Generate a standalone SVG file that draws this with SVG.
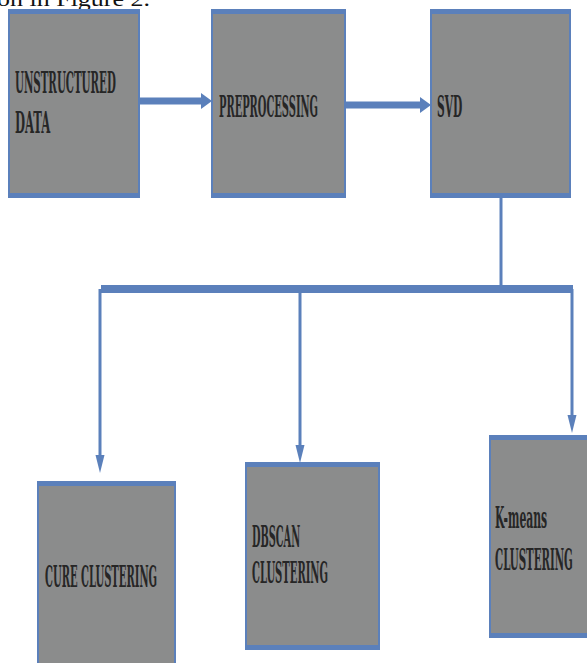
<svg xmlns="http://www.w3.org/2000/svg" width="587" height="663" viewBox="0 0 587 663">
  <style>
    .box { fill: #8b8c8c; stroke: #5b80bb; stroke-width: 2; }
    .band { fill: #5b80bb; }
    .lbl { font-family: "DejaVu Serif Condensed", "DejaVu Serif", "Liberation Serif", serif; font-weight: bold; font-size: 29px; fill: #262626; }
    .thick { stroke: #5b80bb; stroke-width: 7; fill: none; }
    .thin { stroke: #5b80bb; stroke-width: 3; fill: none; }
    .cap { font-family: "Liberation Serif", "Times New Roman", serif; font-size: 22px; fill: #111; }
  </style>
  <defs>
    <marker id="hhead" markerUnits="userSpaceOnUse" markerWidth="14" markerHeight="18" refX="1" refY="8" orient="auto">
      <path d="M0,0 L11,8 L0,16 z" fill="#5b80bb"/>
    </marker>
    <marker id="vhead" markerUnits="userSpaceOnUse" markerWidth="20" markerHeight="10" refX="1" refY="4.5" orient="auto">
      <path d="M0,0 L18,4.5 L0,9 z" fill="#5b80bb"/>
    </marker>
  </defs>
  <rect width="587" height="663" fill="#ffffff"/>

  <text class="cap" x="-3" y="5.5" textLength="153" lengthAdjust="spacingAndGlyphs">on in Figure 2.</text>

  <g id="connectors">
    <line class="thick" x1="139" y1="101" x2="202" y2="101" marker-end="url(#hhead)"/>
    <line class="thick" x1="345" y1="105" x2="421" y2="105" marker-end="url(#hhead)"/>
    <line class="thin" x1="501" y1="197" x2="501" y2="289" stroke-width="2.5"/>
    <line stroke="#5b80bb" stroke-width="8" x1="101" y1="289" x2="573" y2="289"/>
    <line class="thin" x1="100" y1="289" x2="100" y2="456" marker-end="url(#vhead)"/>
    <line class="thin" x1="300" y1="289" x2="300" y2="446" marker-end="url(#vhead)"/>
    <line class="thin" x1="572" y1="289" x2="572" y2="416" marker-end="url(#vhead)"/>
  </g>

  <g id="node-unstructured">
    <rect class="box" x="9" y="10" width="130" height="187"/>
    <rect class="band" x="8" y="9" width="132" height="5"/>
    <rect class="band" x="8" y="193" width="132" height="5"/>
    <text class="lbl" transform="translate(15,93) scale(0.45,1)" textLength="224" lengthAdjust="spacingAndGlyphs">UNSTRUCTURED</text>
    <text class="lbl" transform="translate(15,133) scale(0.45,1)" textLength="78" lengthAdjust="spacingAndGlyphs">DATA</text>
  </g>

  <g id="node-preprocessing">
    <rect class="box" x="212" y="10" width="133" height="187"/>
    <rect class="band" x="211" y="9" width="135" height="5"/>
    <rect class="band" x="211" y="193" width="135" height="5"/>
    <text class="lbl" transform="translate(219,117) scale(0.45,1)" textLength="220" lengthAdjust="spacingAndGlyphs">PREPROCESSING</text>
  </g>

  <g id="node-svd">
    <rect class="box" x="431" y="10" width="139" height="187"/>
    <rect class="band" x="430" y="9" width="141" height="5"/>
    <rect class="band" x="430" y="193" width="141" height="5"/>
    <text class="lbl" transform="translate(437,117) scale(0.45,1)" textLength="56" lengthAdjust="spacingAndGlyphs">SVD</text>
  </g>

  <g id="node-cure">
    <rect class="box" x="38" y="482" width="137" height="195"/>
    <rect class="band" x="37" y="481" width="139" height="5"/>
    <text class="lbl" transform="translate(45,587) scale(0.45,1)" textLength="249" lengthAdjust="spacingAndGlyphs">CURE CLUSTERING</text>
  </g>

  <g id="node-dbscan">
    <rect class="box" x="246" y="463" width="133" height="186"/>
    <rect class="band" x="245" y="462" width="135" height="5"/>
    <rect class="band" x="245" y="645" width="135" height="5"/>
    <text class="lbl" transform="translate(252,547) scale(0.45,1)" textLength="107" lengthAdjust="spacingAndGlyphs">DBSCAN</text>
    <text class="lbl" transform="translate(252,583) scale(0.45,1)" textLength="169" lengthAdjust="spacingAndGlyphs">CLUSTERING</text>
  </g>

  <g id="node-kmeans">
    <rect class="box" x="490" y="436" width="110" height="201"/>
    <rect class="band" x="489" y="435" width="112" height="5"/>
    <rect class="band" x="489" y="633" width="112" height="5"/>
    <text class="lbl" transform="translate(495,528) scale(0.45,1)" textLength="116" lengthAdjust="spacingAndGlyphs">K-means</text>
    <text class="lbl" transform="translate(495,570) scale(0.45,1)" textLength="173" lengthAdjust="spacingAndGlyphs">CLUSTERING</text>
  </g>
</svg>
